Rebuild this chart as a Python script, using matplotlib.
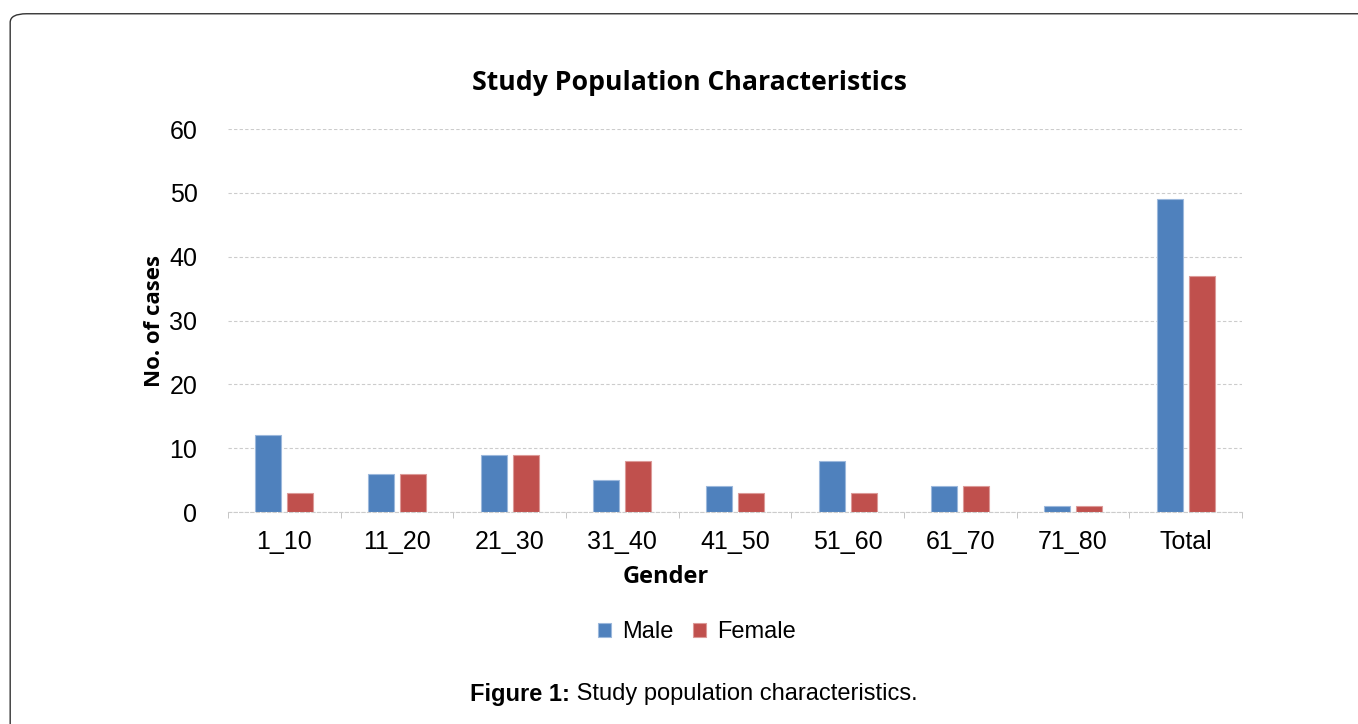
import numpy as np
import matplotlib.pyplot as plt
from matplotlib.patches import FancyBboxPatch

# data
categories = ['1_10', '11_20', '21_30', '31_40', '41_50', '51_60', '61_70', '71_80', 'Total']
male = [12, 6, 9, 5, 4, 8, 4, 1, 49]
female = [3, 6, 9, 8, 3, 3, 4, 1, 37]
y_ticks = [0, 10, 20, 30, 40, 50, 60]

blue = '#4f81bd'
red = '#c0504d'

fig = plt.figure(figsize=(13.58, 7.24), dpi=100)
ax = fig.add_axes([0.1679, 0.2928, 0.7467, 0.529])

# outer frame of the figure panel
frame = FancyBboxPatch((0.0075, -0.05), 1.05, 1.031, transform=fig.transFigure,
                       boxstyle='round,pad=0,rounding_size=0.012',
                       fill=False, edgecolor='#333333', linewidth=1.0)
fig.patches.append(frame)

x = np.arange(len(categories))
w = 0.23
ax.bar(x - 0.142, male, width=w, color=blue, edgecolor='#9cb8dc', linewidth=0.8, label='Male', zorder=3)
ax.bar(x + 0.142, female, width=w, color=red, edgecolor='#dc9a98', linewidth=0.8, label='Female', zorder=3)

ax.set_xlim(-0.5, len(categories) - 0.5)
ax.set_ylim(0, 60)
ax.set_yticks(y_ticks)
ax.set_xticks(x)
ax.set_xticklabels(categories)
ax.set_xticks(np.arange(-0.5, len(categories)), minor=True)
ax.tick_params(axis='x', which='major', length=0, pad=13, labelsize=18)
ax.tick_params(axis='x', which='minor', length=4, color='#bbbbbb')
ax.tick_params(axis='y', length=0, pad=22, labelsize=18)
for lbl in ax.get_xticklabels() + ax.get_yticklabels():
    lbl.set_fontfamily('Liberation Sans')

ax.grid(axis='y', color='#cccccc', linestyle=(0, (3, 2)), linewidth=0.8, zorder=0)
for s in ['top', 'right', 'left']:
    ax.spines[s].set_visible(False)
ax.spines['bottom'].set_color('#cccccc')
ax.spines['bottom'].set_linestyle((0, (3, 2)))

ax.set_ylabel('No. of cases', fontsize=16, fontweight='bold', family='Open Sans')
ax.yaxis.set_label_coords(-0.062, 0.5)
fig.text(666 / 1358, 1 - 577 / 724, 'Gender', fontsize=17, fontweight='bold',
         family='Open Sans', ha='center', va='center')
fig.text(689 / 1358, 1 - 83 / 724, 'Study Population Characteristics', fontsize=19.2,
         fontweight='bold', family='Open Sans', ha='center', va='center')

ax.legend(loc='center', bbox_to_anchor=(697 / 1358, 1 - 632 / 724), bbox_transform=fig.transFigure,
          ncol=2, frameon=False, prop={'family': 'Liberation Sans', 'size': 17},
          handlelength=0.55, handleheight=0.55, handletextpad=0.5, columnspacing=0.8)

# caption: bold "Figure 1:" followed by regular text
cap_y = 1 - 694 / 724
t1 = fig.text(470 / 1358, cap_y, 'Figure 1:', fontsize=17, fontweight='bold',
              family='Liberation Sans', va='center')
fig.canvas.draw()
bb = t1.get_window_extent()
fig.text(bb.x1 / fig.bbox.width, cap_y, ' Study population characteristics.', fontsize=17,
         family='Liberation Sans', va='center')

fig.savefig('out.png', dpi=100)
